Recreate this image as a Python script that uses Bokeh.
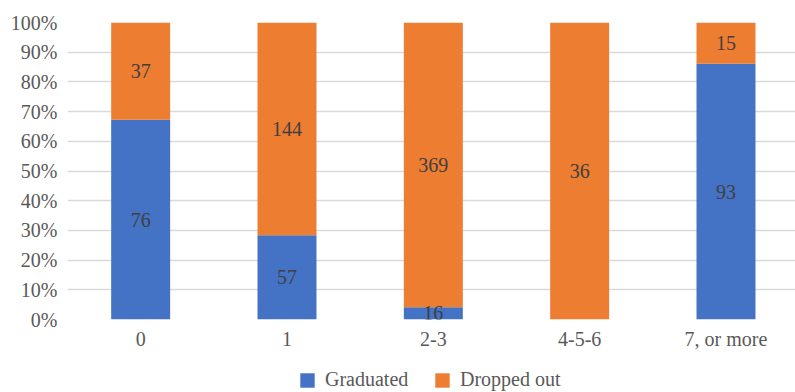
from bokeh.plotting import figure
from bokeh.layouts import column
from bokeh.models import ColumnDataSource, NumeralTickFormatter, FixedTicker, Legend, LegendItem, LabelSet, Range1d
from bokeh.embed import file_html
from bokeh.resources import INLINE

categories = ["0", "1", "2-3", "4-5-6", "7, or more"]
graduated = [76, 57, 16, 0, 93]
dropped_out = [37, 144, 369, 36, 15]
series_names = ["Graduated", "Dropped out"]

BLUE = "#4472C4"
ORANGE = "#ED7D31"
FONT = "Liberation Serif"

x = list(range(len(categories)))
totals = [g + d for g, d in zip(graduated, dropped_out)]
grad_share = [g / t for g, t in zip(graduated, totals)]
drop_share = [d / t for d, t in zip(dropped_out, totals)]

src = ColumnDataSource(dict(x=x, grad=grad_share, drop=drop_share))

p = figure(width=795, height=355, output_backend="svg", toolbar_location=None,
           x_range=Range1d(-0.5, 4.475), y_range=Range1d(0, 1),
           min_border_left=67, min_border_right=0, min_border_top=22, min_border_bottom=36)
p.outline_line_color = None
p.background_fill_color = "white"
p.border_fill_color = "white"

p.vbar_stack(["grad", "drop"], x="x", width=0.403, source=src,
             color=[BLUE, ORANGE], line_color=None)

# value labels centred in each segment
lab_x, lab_y, lab_t = [], [], []
for i in x:
    if graduated[i] > 0:
        lab_x.append(i); lab_y.append(grad_share[i] / 2); lab_t.append(str(graduated[i]))
    if dropped_out[i] > 0:
        lab_x.append(i); lab_y.append(grad_share[i] + drop_share[i] / 2); lab_t.append(str(dropped_out[i]))
lab_src = ColumnDataSource(dict(x=lab_x, y=lab_y, t=lab_t))
p.add_layout(LabelSet(x="x", y="y", text="t", source=lab_src, text_align="center",
                      text_baseline="middle", text_font=FONT, text_font_size="20px",
                      text_color="#404040"))

# axes
p.xaxis.ticker = FixedTicker(ticks=x)
p.xaxis.major_label_overrides = {i: c for i, c in zip(x, categories)}
p.yaxis.ticker = FixedTicker(ticks=[i / 10 for i in range(11)])
p.yaxis.formatter = NumeralTickFormatter(format="0%")
for ax in (p.xaxis, p.yaxis):
    ax.axis_line_color = None
    ax.major_tick_line_color = None
    ax.minor_tick_line_color = None
    ax.major_label_text_font = FONT
    ax.major_label_text_font_size = "20px"
    ax.major_label_text_color = "#595959"
p.yaxis.major_label_standoff = 4
p.xaxis.major_label_standoff = 2

p.xgrid.grid_line_color = None
p.ygrid.ticker = FixedTicker(ticks=[i / 10 for i in range(11)])
p.ygrid.grid_line_color = "#d9d9d9"
p.ygrid.grid_line_width = 1.5

# legend strip underneath the chart (its frame lines up with the chart's frame)
leg = figure(width=795, height=37, output_backend="svg", toolbar_location=None,
             x_axis_location=None, y_axis_location=None, min_border=0,
             x_range=Range1d(-0.5, 4.475), y_range=Range1d(0, 1))
leg.outline_line_color = None
leg.grid.visible = False
proxies = leg.vbar_stack(["grad", "drop"], x="x", width=0.403, source=src,
                         color=[BLUE, ORANGE], line_color=None)
for r in proxies:
    r.visible = False
legend = Legend(items=[LegendItem(label=series_names[0], renderers=[proxies[0]]),
                       LegendItem(label=series_names[1], renderers=[proxies[1]])],
                orientation="horizontal", location=(231, 1),
                label_text_font=FONT, label_text_font_size="20px", label_text_color="#595959",
                glyph_width=18, glyph_height=18, label_standoff=9, label_width=108, spacing=0,
                border_line_color=None, background_fill_alpha=0, padding=0, margin=0)
leg.add_layout(legend)

layout = column(p, leg, spacing=0)
open("out.html", "w").write(file_html(layout, INLINE))
